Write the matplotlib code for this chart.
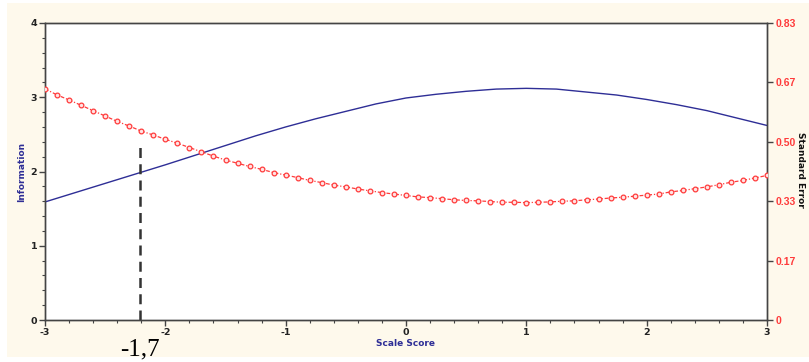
import matplotlib
matplotlib.use("Agg")
import matplotlib.pyplot as plt
from matplotlib.patches import Rectangle
from matplotlib.ticker import MultipleLocator, FixedLocator

# Information curve (blue)
info_x = [-3.0, -2.75, -2.5, -2.25, -2.0, -1.75, -1.5, -1.25, -1.0, -0.75, -0.5, -0.25,
          0.0, 0.25, 0.5, 0.75, 1.0, 1.25, 1.5, 1.75, 2.0, 2.25, 2.5, 2.75, 3.0]
info_y = [1.59, 1.715, 1.84, 1.965, 2.09, 2.22, 2.35, 2.48, 2.60, 2.71, 2.81, 2.91,
          2.99, 3.04, 3.08, 3.11, 3.12, 3.11, 3.07, 3.03, 2.97, 2.90, 2.82, 2.72, 2.62]

# Standard error curve (red), points every 0.1
se_x = [round(-3.0 + 0.1 * i, 1) for i in range(61)]
se_y = [0.646, 0.629, 0.615, 0.600, 0.585, 0.570, 0.555, 0.542, 0.528, 0.517,
        0.505, 0.494, 0.482, 0.470, 0.458, 0.447, 0.438, 0.429, 0.421, 0.412,
        0.405, 0.398, 0.390, 0.384, 0.377, 0.372, 0.366, 0.361, 0.356, 0.352,
        0.348, 0.344, 0.342, 0.339, 0.336, 0.334, 0.333, 0.331, 0.329, 0.329,
        0.328, 0.329, 0.330, 0.332, 0.333, 0.336, 0.338, 0.341, 0.343, 0.346,
        0.349, 0.352, 0.358, 0.362, 0.367, 0.372, 0.378, 0.385, 0.390, 0.397,
        0.404]

marker_x = -2.21
marker_top = 2.36
marker_label = "-1,7"

x_ticks = [-3, -2, -1, 0, 1, 2, 3]
left_ticks = [0, 1, 2, 3, 4]
right_tick_labels = ["0", "0.17", "0.33", "0.50", "0.67", "0.83"]
right_max = 0.83

bg = "#FEF9EC"
navy = "#2E2E96"
red = "#FF3B3B"
spine_c = "#444444"

W, H = 809, 362
fig = plt.figure(figsize=(W/100, H/100), dpi=100, facecolor="white")
fig.patches.append(Rectangle((7/W, 5/H), 1 - 7/W, 1 - 8/H, transform=fig.transFigure,
                             facecolor=bg, edgecolor="none", zorder=-10))
ax = fig.add_axes([45/W, 1-320/H, (767-45)/W, (320-23)/H])
ax.set_facecolor("white")

ax.plot(info_x, info_y, color=navy, lw=1.0, zorder=3)
ax.plot([marker_x, marker_x], [0, marker_top], color="#333333", lw=1.8,
        linestyle=(0, (4, 2.5)), zorder=4)

ax.set_xlim(-3, 3)
ax.set_ylim(0, 4)
ax.xaxis.set_major_locator(FixedLocator(x_ticks))
ax.xaxis.set_minor_locator(MultipleLocator(0.2))
ax.yaxis.set_major_locator(FixedLocator(left_ticks))
ax.yaxis.set_minor_locator(MultipleLocator(0.2))
ax.set_xticklabels([str(v) for v in x_ticks])
ax.set_yticklabels([str(v) for v in left_ticks])
ax.tick_params(axis="both", which="major", length=4, width=1, color=spine_c,
               labelsize=6.8, pad=1.5)
ax.tick_params(axis="both", which="minor", length=2, width=0.8, color=spine_c)
for lab in ax.get_xticklabels() + ax.get_yticklabels():
    lab.set_fontweight("bold")
    lab.set_color("#222222")
for s in ax.spines.values():
    s.set_color(spine_c)
    s.set_linewidth(1.0)

ax2 = ax.twinx()
ax2.plot(se_x, se_y, color=red, lw=0.9, linestyle=(0, (3, 1.5, 1, 1.5)),
         marker="o", markersize=3.4, markerfacecolor="#FFE4E4",
         markeredgecolor=red, markeredgewidth=0.9, zorder=3)
ax2.set_ylim(0, right_max)
rt = [right_max * i / 5 for i in range(6)]
ax2.yaxis.set_major_locator(FixedLocator(rt))
ax2.set_yticklabels(right_tick_labels)
ax2.tick_params(axis="y", which="major", length=4, width=1, color=spine_c,
                labelsize=7.5, pad=2, labelcolor=red)
for lab in ax2.get_yticklabels():
    lab.set_fontweight("bold")
    lab.set_family("Liberation Sans")
for s in ax2.spines.values():
    s.set_color(spine_c)
    s.set_linewidth(1.0)

fig.text(22/W, 1-172/H, "Information", rotation=90, ha="center", va="center",
         color=navy, fontsize=6.5, fontweight="bold")
fig.text(406/W, 1-343/H, "Scale Score", ha="center", va="center",
         color=navy, fontsize=6.5, fontweight="bold")
fig.text(801/W, 1-170/H, "Standard Error", rotation=-90, ha="center", va="center",
         color="#111111", fontsize=6.5, fontweight="bold")

fig.text(140/W, 1-355/H, marker_label, ha="center", va="baseline",
         fontsize=18, family="Liberation Serif", color="black")

fig.savefig("out.png", dpi=100, facecolor="white")
